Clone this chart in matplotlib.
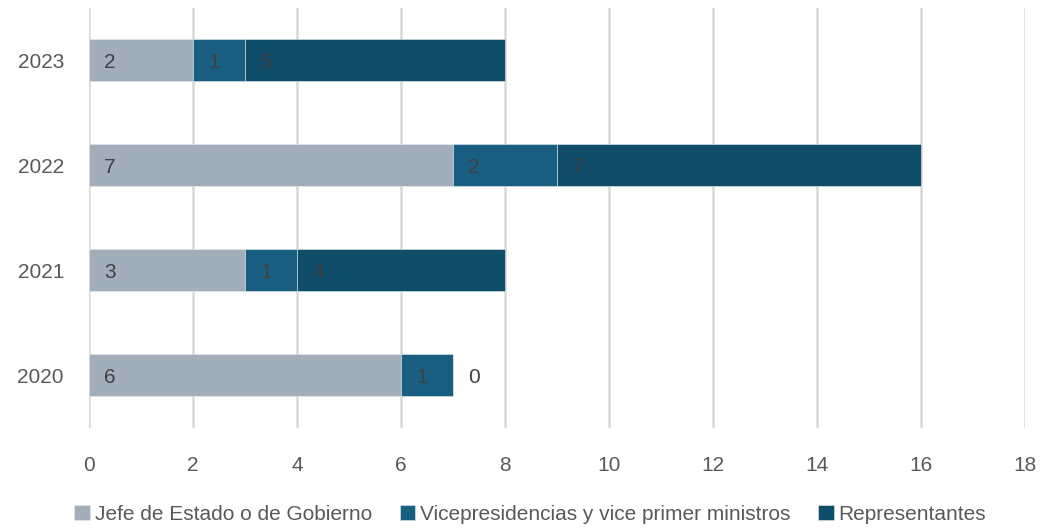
import matplotlib
matplotlib.use("Agg")
import matplotlib.pyplot as plt

plt.rcParams['font.family'] = ['Liberation Sans', 'DejaVu Sans']

years = ['2020', '2021', '2022', '2023']
jefe = [6, 3, 7, 2]
vice = [1, 1, 2, 1]
repr_ = [0, 4, 7, 5]
series_names = ['Jefe de Estado o de Gobierno', 'Vicepresidencias y vice primer ministros', 'Representantes']
colors = ['#A2AFBA', '#175E80', '#0F4D69']
xticks = [0, 2, 4, 6, 8, 10, 12, 14, 16, 18]

fig = plt.figure(figsize=(10.42, 5.29), dpi=100)
ax = fig.add_axes([89/1042, 1-428/529, (1025-89)/1042, (428-7.5)/529])

ypos = list(range(len(years)))
left = [0]*len(years)
txtc = '#404040'
for vals, name, c in zip([jefe, vice, repr_], series_names, colors):
    ax.barh(ypos, vals, left=left, height=0.4, color=c, label=name,
            edgecolor='#E6EAED', linewidth=0.4, zorder=3)
    for y, v, l in zip(ypos, vals, left):
        ax.annotate(str(v), xy=(l, y), xytext=(15, -1.5), textcoords='offset points',
                    ha='center', va='center', fontsize=15, color=txtc, zorder=4)
    left = [a+b for a, b in zip(left, vals)]

ax.set_xlim(0, 18)
ax.set_ylim(-0.5, 3.5)
ax.set_xticks(xticks)
ax.set_yticks(ypos)
ax.set_yticklabels(years)
ax.grid(axis='x', color='#D9D9D9', linewidth=1.8, zorder=0)
for s in ax.spines.values():
    s.set_visible(False)
ax.tick_params(axis='both', length=0, labelsize=15, labelcolor='#595959')
ax.tick_params(axis='x', pad=20)
ax.tick_params(axis='y', pad=18)

leg = fig.legend(loc='center', bbox_to_anchor=(0.509, 1-514/529), ncol=3, frameon=False,
                 fontsize=15, labelcolor='#595959', handlelength=0.75, handleheight=0.75,
                 handletextpad=0.25, columnspacing=1.3, borderpad=0, borderaxespad=0)

fig.savefig('out.png', dpi=100)
